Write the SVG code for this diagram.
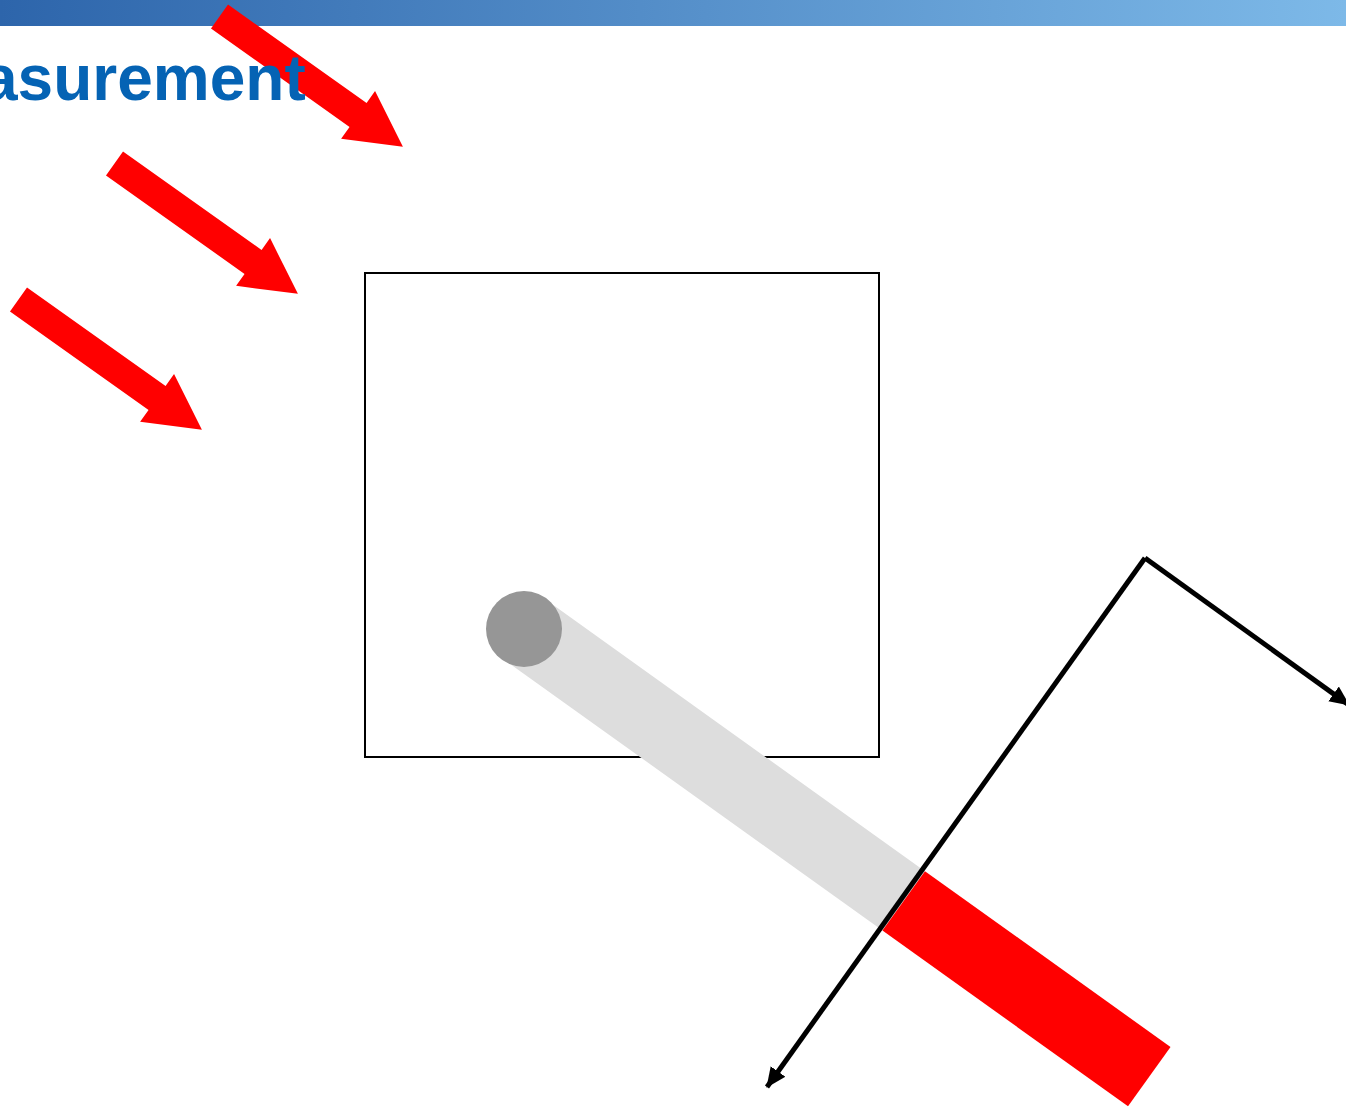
<svg xmlns="http://www.w3.org/2000/svg" width="1346" height="1109" viewBox="0 0 1346 1109">
  <defs>
    <linearGradient id="barGrad" x1="0" y1="0" x2="1" y2="0">
      <stop offset="0" stop-color="#2d65ab"/>
      <stop offset="1" stop-color="#7db9e8"/>
    </linearGradient>
    <path id="bigArrow" d="M0,-14.7 L170,-14.7 L170,-29.3 L225,0 L170,29.3 L170,14.7 L0,14.7 Z"/>
    <marker id="head" markerUnits="userSpaceOnUse" viewBox="0 0 20 20" refX="19" refY="10" markerWidth="20" markerHeight="20" orient="auto">
      <path d="M0,1 L20,10 L0,19 Z" fill="#000"/>
    </marker>
  </defs>
  <style>
    .title { font-family: "Liberation Sans", Arial, sans-serif; font-weight: bold; font-size: 64px; fill: #0563b4; }
    .red { fill: #ff0000; }
    .conn { stroke: #000; stroke-width: 5; fill: none; }
  </style>
  <rect id="topbar" x="0" y="0" width="1346" height="26" fill="url(#barGrad)"/>
  <g id="arrow1"><use href="#bigArrow" class="red" transform="translate(219.5,16.5) rotate(35.4)"/></g>
  <g id="arrow2"><use href="#bigArrow" class="red" transform="translate(114.5,163.5) rotate(35.4)"/></g>
  <g id="arrow3"><use href="#bigArrow" class="red" transform="translate(18.5,299.5) rotate(35.4)"/></g>
  <text id="title" class="title" x="-18" y="100">asurement</text>
  <g id="box"><rect x="365" y="273" width="514" height="484" fill="#fff" stroke="#000" stroke-width="2"/></g>
  <g id="beam" transform="translate(524,629) rotate(35.6)">
    <rect x="0" y="-36.5" width="467" height="73" fill="#dddddd"/>
    <rect x="467" y="-36.5" width="302" height="73" fill="#ff0000"/>
  </g>
  <g id="source"><circle cx="524" cy="629" r="38" fill="#969696"/></g>
  <g id="connectors">
    <line class="conn" x1="1145" y1="558" x2="767" y2="1087" marker-end="url(#head)"/>
    <line class="conn" x1="1145" y1="558" x2="1349" y2="705" marker-end="url(#head)"/>
  </g>
</svg>
